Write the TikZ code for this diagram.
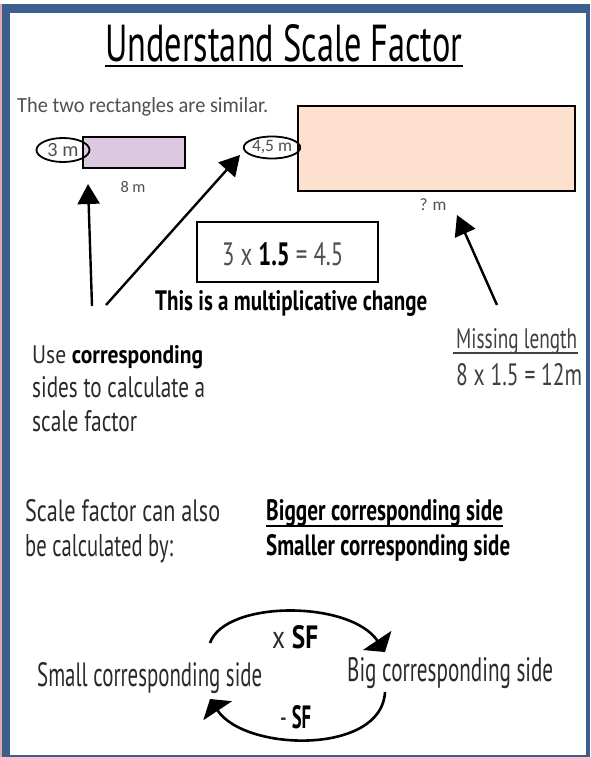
\documentclass[tikz,border=0pt]{standalone}
\usepackage{fontspec}
\setmainfont{Carlito}
\newfontfamily\hand{PT Sans}
\usepackage{graphicx}
\usetikzlibrary{arrows.meta,shapes.geometric}
\definecolor{frameblue}{HTML}{3B6090}
\definecolor{framepink}{HTML}{E3A9A9}
\definecolor{lilac}{HTML}{DCC8E0}
\definecolor{peach}{HTML}{FDE0CE}
\definecolor{labelgray}{HTML}{505050}
\definecolor{inkgray}{HTML}{2A2A2A}
\newcommand{\fitto}[3]{\resizebox{#1pt}{#2pt}{#3}}
\newcommand{\fitw}[2]{\resizebox{#1pt}{!}{#2}}
\begin{document}
\begin{tikzpicture}[x=1pt,y=-1pt,
  txt/.style={inner sep=0pt, anchor=base west, text=inkgray},
  lbl/.style={inner sep=0pt, text=labelgray},
  bigarrow/.style={line width=2.4pt, -{Triangle[length=20pt,width=22pt]}},
  cyclearrow/.style={line width=2.6pt, -{Triangle[length=14pt,width=34pt]}},
  ring/.style={ellipse, draw, line width=1.8pt, inner sep=0pt},
  shapebox/.style={draw, line width=1.5pt, inner sep=0pt},
  uline/.style={line width=1.4pt},
]
\useasboundingbox (0,0) rectangle (590,757);
\fill[white] (0,0) rectangle (590,757);
\fill[framepink] (0,4) rectangle (2,757);
\fill[frameblue] (2,4) rectangle (590,13);
\fill[frameblue] (2,4) rectangle (10,757);
\fill[frameblue] (586,4) rectangle (590,757);
\fill[frameblue] (2,755) rectangle (590,757);

% title
\node[txt, text=black] (title) at (105,62) {\fitto{357}{37}{\hand Understand Scale Factor}};
\draw[uline, line width=1.8pt] ([yshift=-4pt]title.base west) -- ([yshift=-4pt]title.base east);

% intro
\node[txt, text=labelgray] (intro) at (17,113) {\fitto{251}{15}{The two rectangles are similar.}};

% rectangles
\node[shapebox, fill=lilac, minimum width=102pt, minimum height=31pt] (small) at (134,152.5) {};
\node[shapebox, fill=peach, minimum width=277pt, minimum height=85pt] (big) at (436.5,148.5) {};
\node[ring, minimum width=53pt, minimum height=24pt, text=labelgray] (three) at (63,150) {\fitw{31}{3 m}};
\node[ring, minimum width=51pt, minimum height=22pt, text=labelgray] (fourfive) at (272,147.5) {\fitw{40}{4,5 m}};
\node[lbl] (eight) at (133,187) {\fitw{25}{8 m}};
\node[lbl] (qm) at (433,205) {\fitw{27}{? m}};

% box
\node[shapebox, line width=1.3pt, minimum width=181pt, minimum height=60pt] (calc) at (287.5,252) {};
\node[txt, text=labelgray] (calctext) at (222,265) {\fitto{121}{23}{\hand 3 x \textcolor{black}{\bfseries 1.5} = 4.5}};
\node[txt, text=black] (mult) at (155,310) {\fitto{272}{20}{\hand\bfseries This is a multiplicative change}};

% arrows
\coordinate (a1s) at (92,306);
\coordinate (a1e) at (88,184);
\coordinate (a2s) at (106,305);
\coordinate (a2e) at (240,155);
\coordinate (a3s) at (497,305);
\coordinate (a3e) at (457,215);
\draw[bigarrow] (a1s) -- (a1e);
\draw[bigarrow] (a2s) -- (a2e);
\draw[bigarrow] (a3s) -- (a3e);

% left explanation
\node[txt] (use) at (32,363) {\fitto{171}{18}{\hand Use \textcolor{black}{\bfseries corresponding}}};
\node[txt] (sides) at (32,397) {\fitto{173}{21}{\hand sides to calculate a}};
\node[txt] (sf) at (32,431) {\fitto{105}{21}{\hand scale factor}};

% missing length
\node[txt, text=labelgray!80!black] (miss) at (456,348) {\fitto{121}{20}{\hand Missing length}};
\draw[uline, labelgray!80!black] (453,353) -- (578,353);
\node[txt, text=labelgray!80!black] (missc) at (456,385) {\fitto{126}{22}{\hand 8 x 1.5 = 12m}};

% scale factor can also
\node[txt] (sca) at (25,521) {\fitto{195}{22}{\hand Scale factor can also}};
\node[txt] (scb) at (25,556) {\fitto{148}{22}{\hand be calculated by:}};
\node[txt, text=black] (bigger) at (266,520) {\fitto{237}{21}{\hand\bfseries Bigger corresponding side}};
\draw[uline, line width=1.6pt] (266,526) -- (503,526);
\node[txt, text=black] (smaller) at (266,555) {\fitto{244}{21}{\hand\bfseries Smaller corresponding side}};

% cycle
\node[txt] (smallside) at (37,686) {\fitto{225}{24}{\hand Small corresponding side}};
\node[txt] (bigside) at (347,681) {\fitto{206}{24}{\hand Big corresponding side}};
\node[txt] (xsf) at (272,648) {\fitto{46}{23}{\hand x \textcolor{black}{\bfseries SF}}};
\node[txt] (dsf) at (280,728) {\fitto{31}{23}{\hand - \textcolor{black}{\bfseries SF}}};
\coordinate (c1s) at (210,643);
\coordinate (c1e) at (385,652);
\coordinate (c2s) at (385,692);
\coordinate (c2e) at (210,699);
\draw[cyclearrow] (c1s) .. controls (225,600) and (350,600) .. (c1e);
\draw[cyclearrow] (c2s) .. controls (382,755) and (245,752) .. (c2e);
\end{tikzpicture}
\end{document}
